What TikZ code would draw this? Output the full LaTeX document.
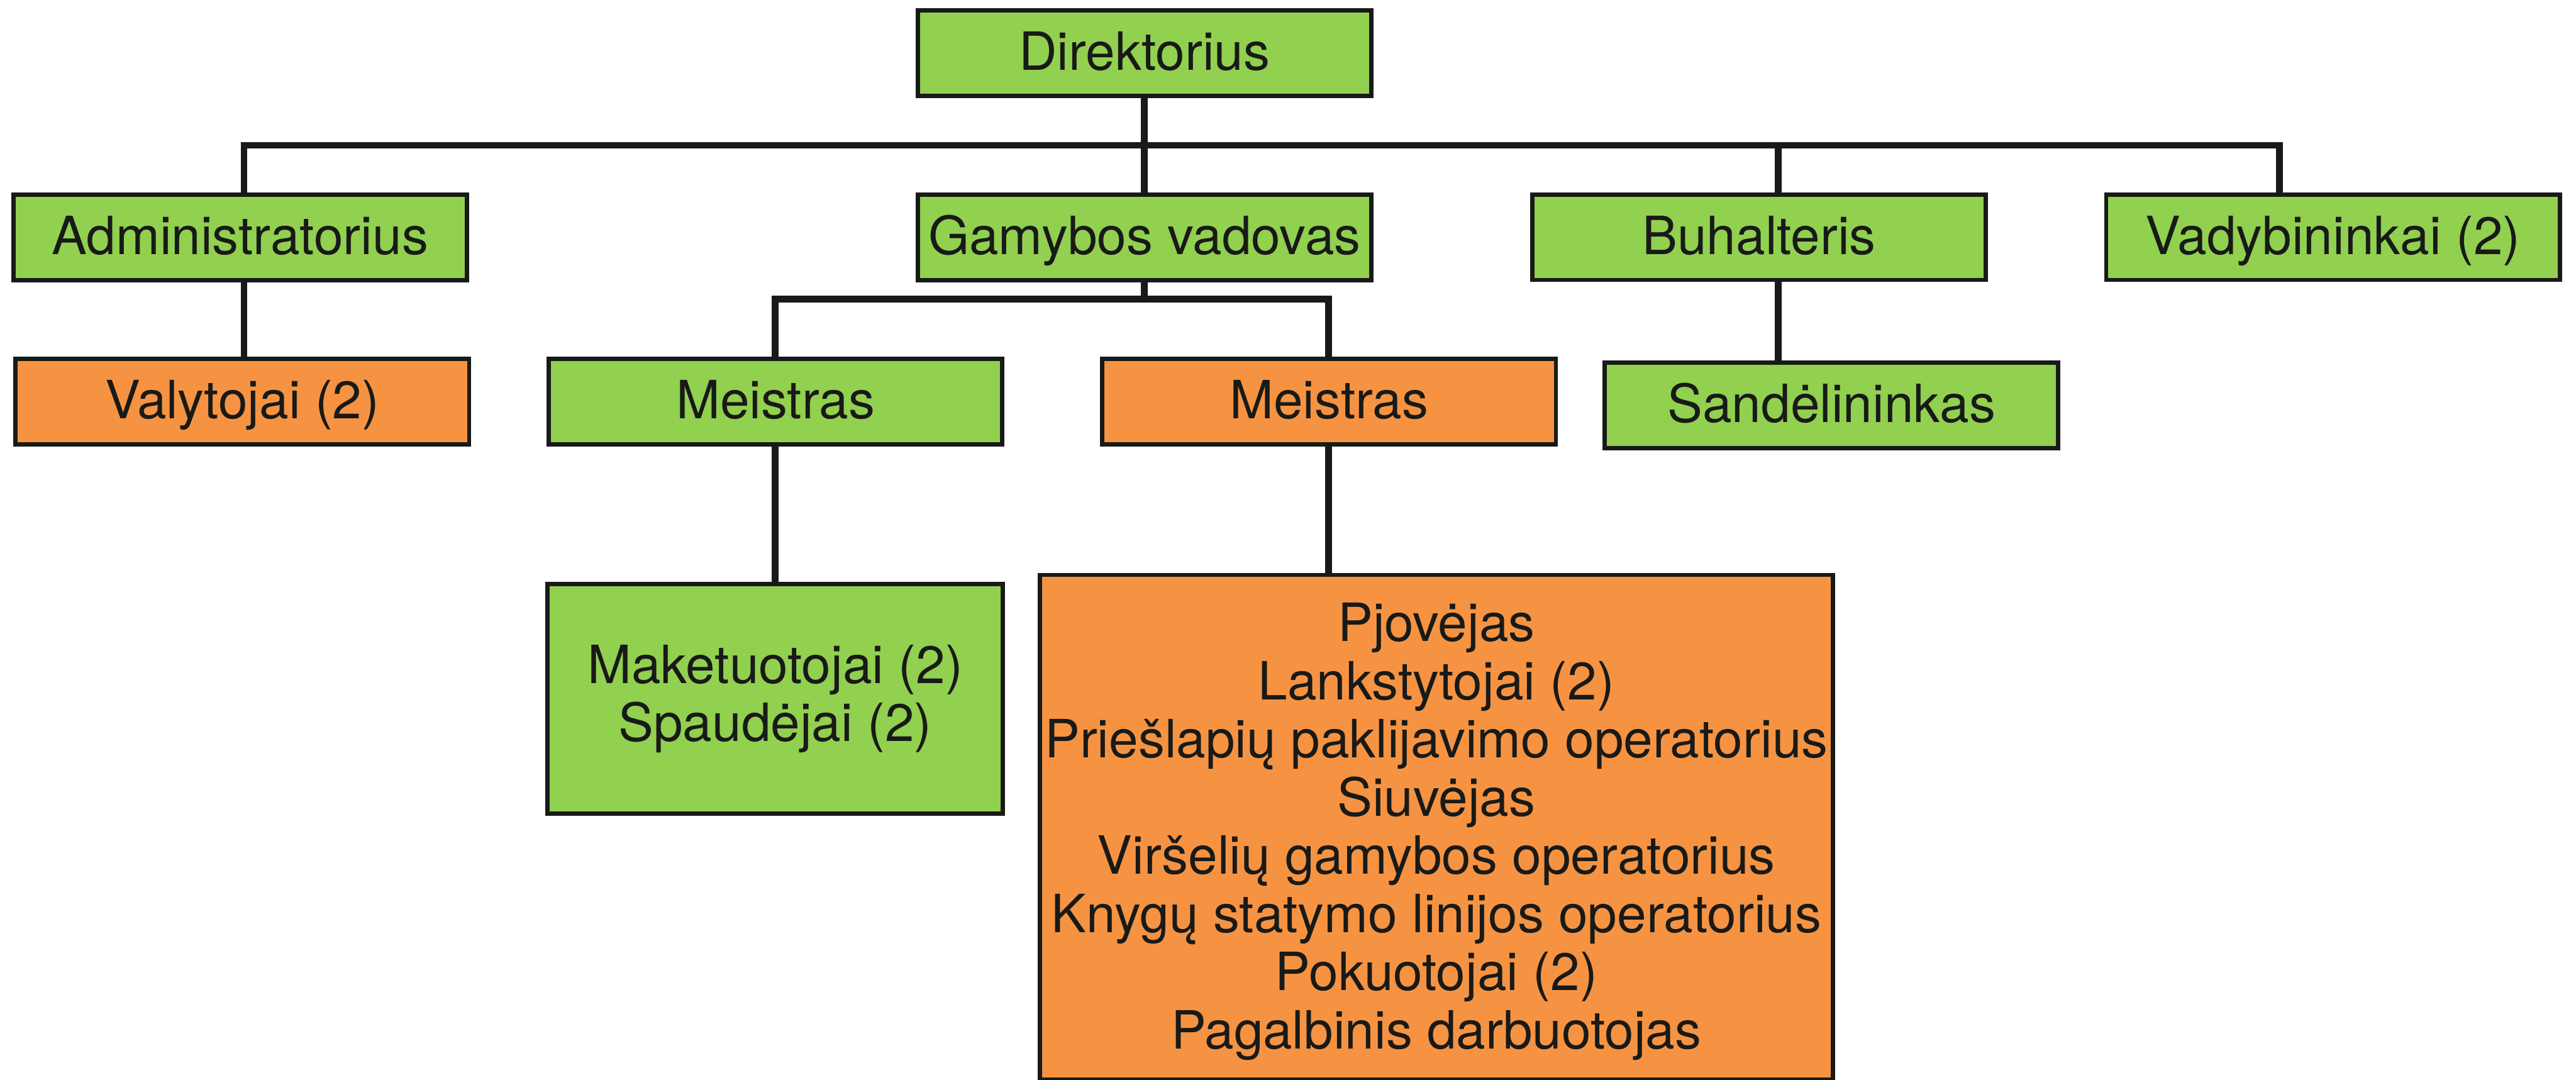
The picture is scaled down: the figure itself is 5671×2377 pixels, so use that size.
\documentclass[tikz,border=0pt]{standalone}
\usepackage{fontspec}
\setmainfont{TeX Gyre Heros}
\definecolor{boxgreen}{RGB}{146,208,80}
\definecolor{boxorange}{RGB}{246,147,66}
\definecolor{ink}{RGB}{24,26,24}
\newcommand{\orgfont}{\fontsize{33}{36.4}\selectfont}
\begin{document}
\begin{tikzpicture}[x=0.01cm,y=-0.01cm,
  unit/.style={draw=ink, line width=0.095cm, text=ink, font=\orgfont, inner sep=0pt},
  role/.style={unit, minimum width=9.98cm, minimum height=1.88cm, text height=0.84cm, text depth=0.08cm},
  gfill/.style={fill=boxgreen},
  ofill/.style={fill=boxorange},
  link/.style={draw=ink, line width=0.147cm, line join=miter}]
\useasboundingbox (0,0) rectangle (5671,2377);

% top level
\node[role, gfill] (dir) at (2519.5,117) {Direktorius};

% second level
\node[role, gfill] (adm) at (528.5,522.5) {Administratorius};
\node[role, gfill] (gam) at (2519.5,522.5) {Gamybos vadovas};
\node[role, gfill] (buh) at (3872.5,522) {Buhalteris};
\node[role, gfill] (vad) at (5136,522) {Vadybininkai (2)};

% third level
\node[role, ofill] (val) at (533.5,883.5) {Valytojai (2)};
\node[role, gfill] (mg) at (1707.5,884) {Meistras};
\node[role, ofill] (mo) at (2926,884) {Meistras};
\node[role, gfill] (san) at (4032,892) {Sandėlininkas};

% workers
\node[unit, gfill, minimum width=10.02cm, minimum height=5.045cm, align=center] (mak) at (1706.5,1538)
  {Maketuotojai (2)\\Spaudėjai (2)};
\node[unit, ofill, minimum width=17.445cm, minimum height=11.105cm] (big) at (3162,1821) {};
\node[text=ink, font=\orgfont, align=center, inner sep=0pt] (bigtxt) at (3162,1830.5)
  {Pjovėjas\\Lankstytojai (2)\\Priešlapių paklijavimo operatorius\\Siuvėjas\\Viršelių gamybos operatorius\\Knygų statymo linijos operatorius\\Pokuotojai (2)\\Pagalbinis darbuotojas};

% junction points of the connector bars
\coordinate (ja) at (537,319.8);
\coordinate (jb) at (3915,319.8);
\coordinate (jv) at (5018.5,319.8);
\coordinate (k1) at (1706.5,658);
\coordinate (k2) at (2925,658);

% connectors
\draw[link] (adm.north -| ja) -- (ja) -- (jv) -- (vad.north -| jv);
\draw[link] (jb) -- (buh.north -| jb);
\draw[link] (dir.south) -- (gam.north);
\draw[link] (gam.south) -- (gam.south |- k1);
\draw[link] (mg.north -| k1) -- (k1) -- (k2) -- (mo.north -| k2);
\draw[link] (adm.south -| ja) -- (val.north -| ja);
\draw[link] (mg.south -| k1) -- (mak.north -| k1);
\draw[link] (mo.south -| k2) -- (big.north -| k2);
\draw[link] (buh.south -| jb) -- (san.north -| jb);
\end{tikzpicture}
\end{document}
